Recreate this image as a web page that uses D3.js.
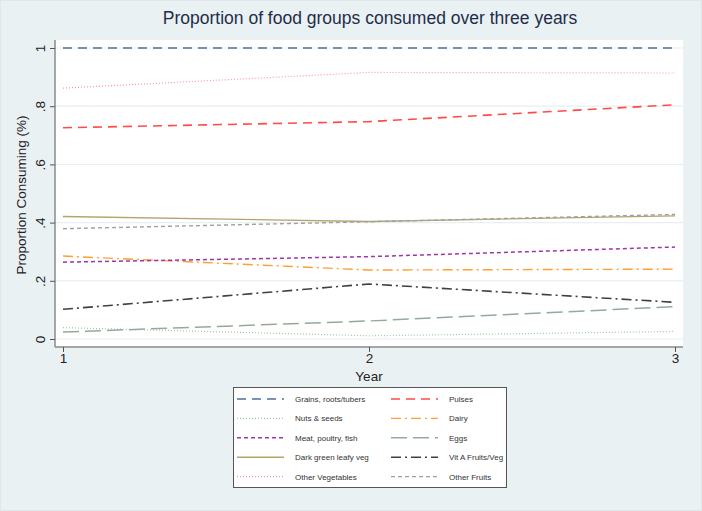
<!DOCTYPE html>
<html>
<head>
<meta charset="utf-8">
<script src="https://cdn.jsdelivr.net/npm/d3@7"></script>
<style>
  body { margin: 0; background: #eaf1f3; }
  text { font-family: "Liberation Sans", Arial, sans-serif; }
</style>
</head>
<body>
<div id="chart"></div>
<script>
// 1: DATA
const years = [1, 2, 3];
const yTicks = [0, 0.2, 0.4, 0.6, 0.8, 1];
const yTickLabels = ["0", ".2", ".4", ".6", ".8", "1"];

const grains = [1.0, 1.0, 1.0];
const pulses = [0.726, 0.747, 0.805];
const nuts = [0.039, 0.011, 0.026];
const dairy = [0.285, 0.237, 0.240];
const meat = [0.264, 0.283, 0.316];
const eggs = [0.024, 0.062, 0.111];
const darkGreen = [0.421, 0.404, 0.423];
const vitA = [0.102, 0.189, 0.126];
const otherVeg = [0.862, 0.916, 0.914];
const otherFruits = [0.379, 0.403, 0.428];

const seriesNames = ["Grains, roots/tubers", "Pulses", "Nuts & seeds", "Dairy",
    "Meat, poultry, fish", "Eggs", "Dark green leafy veg", "Vit A Fruits/Veg",
    "Other Vegetables", "Other Fruits"];
const seriesValues = [grains, pulses, nuts, dairy, meat, eggs, darkGreen, vitA, otherVeg, otherFruits];

// line styles (kept apart from the data)
const styles = [
    { color: "#4f6f9c", dash: "9,6", w: 1.5 },
    { color: "#ff4a45", dash: "9,6", w: 1.6 },
    { color: "#9ccb9c", dash: "1,2", w: 1.2 },
    { color: "#ff9f30", dash: "10,4,2,4", w: 1.4 },
    { color: "#a034a8", dash: "4,3", w: 1.5 },
    { color: "#92ab9c", dash: "16,6", w: 1.5 },
    { color: "#b5a46c", dash: null, w: 1.4 },
    { color: "#404040", dash: "10,4,2,4", w: 1.6 },
    { color: "#ff8fb8", dash: "1,2", w: 1.2 },
    { color: "#a0a0a0", dash: "4,3", w: 1.4 }
];

// 2: SET UP
const W = 702, H = 511;
const plot = { left: 55, right: 683, top: 40, bottom: 347 };

const svg = d3.select("#chart")
    .append("svg")
    .attr("width", W)
    .attr("height", H);

svg.append("rect")
    .attr("x", 0.5).attr("y", 0.5)
    .attr("width", W - 1).attr("height", H - 1)
    .attr("fill", "#eaf1f3")
    .attr("stroke", "#dfe7ea");

svg.append("rect")
    .attr("x", plot.left).attr("y", plot.top)
    .attr("width", plot.right - plot.left).attr("height", plot.bottom - plot.top)
    .attr("fill", "white");

// 3: SCALES
const x = d3.scaleLinear().domain([1, 3]).range([63, 675]);
const y = d3.scaleLinear().domain([0, 1]).range([339, 48]);

// gridlines
svg.append("g")
    .selectAll("line")
    .data(yTicks)
    .join("line")
    .attr("x1", plot.left).attr("x2", plot.right)
    .attr("y1", d => y(d)).attr("y2", d => y(d))
    .attr("stroke", "#e6eff1")
    .attr("stroke-width", 1.2);

// 4: AXES
const yAxis = svg.append("g")
    .attr("transform", `translate(${plot.left},0)`)
    .call(d3.axisLeft(y).tickValues(yTicks).tickFormat((d, i) => yTickLabels[i]).tickSize(5).tickSizeOuter(0));
yAxis.select(".domain").attr("d", `M0,${plot.top}V${plot.bottom}`).attr("stroke", "#8a8a8a").attr("stroke-width", 1.5);
yAxis.selectAll(".tick line").attr("stroke", "#555");
yAxis.selectAll(".tick text")
    .attr("transform", "rotate(-90)")
    .attr("x", 0).attr("y", -10)
    .attr("dy", "0")
    .attr("text-anchor", "middle")
    .style("font-size", "13.5px")
    .attr("fill", "#222");

const xAxis = svg.append("g")
    .attr("transform", `translate(0,${plot.bottom})`)
    .call(d3.axisBottom(x).tickValues(years).tickFormat(d3.format("d")).tickSize(5).tickSizeOuter(0));
xAxis.select(".domain").attr("d", `M${plot.left},0H${plot.right}`).attr("stroke", "#8a8a8a").attr("stroke-width", 1.5);
xAxis.selectAll(".tick line").attr("stroke", "#555");
xAxis.selectAll(".tick text")
    .attr("y", 6)
    .style("font-size", "13.5px")
    .attr("fill", "#222");

// 5: LINES
const line = d3.line()
    .x((d, i) => x(years[i]))
    .y(d => y(d));

svg.append("g")
    .selectAll("path")
    .data(seriesValues)
    .join("path")
    .attr("fill", "none")
    .attr("stroke", (d, i) => styles[i].color)
    .attr("stroke-width", (d, i) => styles[i].w)
    .attr("stroke-dasharray", (d, i) => styles[i].dash)
    .attr("d", line);

// 6: LABELS
svg.append("text")
    .attr("x", 370).attr("y", 24)
    .attr("text-anchor", "middle")
    .style("font-size", "17.5px")
    .attr("fill", "#1e2d4a")
    .text("Proportion of food groups consumed over three years");

svg.append("text")
    .attr("transform", "rotate(-90)")
    .attr("x", -195).attr("y", 26)
    .attr("text-anchor", "middle")
    .style("font-size", "13.5px")
    .attr("fill", "#222")
    .text("Proportion Consuming (%)");

svg.append("text")
    .attr("x", 369).attr("y", 381)
    .attr("text-anchor", "middle")
    .style("font-size", "13.5px")
    .attr("fill", "#222")
    .text("Year");

// 7: LEGEND
const legend = svg.append("g");
legend.append("rect")
    .attr("x", 233.5).attr("y", 387.5)
    .attr("width", 273).attr("height", 100)
    .attr("fill", "white")
    .attr("stroke", "#555");

const rowY = i => 399 + Math.floor(i / 2) * 19.4;
const colX = i => (i % 2 === 0 ? 237 : 391);

const items = legend.selectAll("g.item")
    .data(seriesNames)
    .join("g")
    .attr("class", "item");

items.append("line")
    .attr("x1", (d, i) => colX(i)).attr("x2", (d, i) => colX(i) + 47)
    .attr("y1", (d, i) => rowY(i)).attr("y2", (d, i) => rowY(i))
    .attr("stroke", (d, i) => styles[i].color)
    .attr("stroke-width", (d, i) => styles[i].w)
    .attr("stroke-dasharray", (d, i) => styles[i].dash);

items.append("text")
    .attr("x", (d, i) => colX(i) + 58)
    .attr("y", (d, i) => rowY(i) + 3)
    .style("font-size", "8px")
    .attr("fill", "#333")
    .text(d => d);
</script>
</body>
</html>
